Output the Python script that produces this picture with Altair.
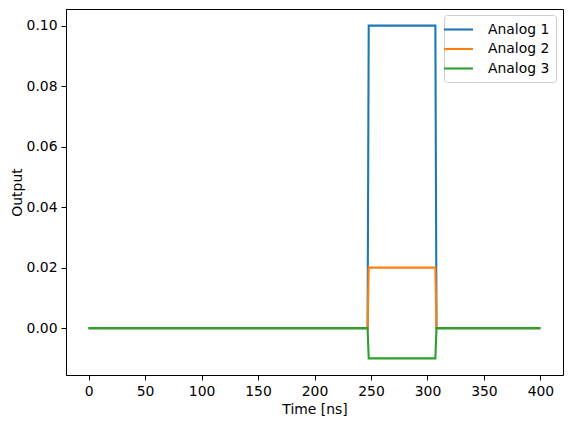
import altair as alt
import pandas as pd

times = [0, 247, 248, 307, 308, 400]
analog1 = [0.0, 0.0, 0.10, 0.10, 0.0, 0.0]
analog2 = [0.0, 0.0, 0.02, 0.02, 0.0, 0.0]
analog3 = [0.0, 0.0, -0.01, -0.01, 0.0, 0.0]
series = ["Analog 1", "Analog 2", "Analog 3"]
colors = ["#1f77b4", "#ff7f0e", "#2ca02c"]

rows = []
for name, vals in zip(series, [analog1, analog2, analog3]):
    for i, (t, v) in enumerate(zip(times, vals)):
        rows.append({"Time": t, "Output": v, "Series": name, "order": i})
df = pd.DataFrame(rows)

font = "DejaVu Sans"

chart = alt.Chart(df).mark_line(strokeWidth=2.1).encode(
    x=alt.X("Time:Q", title="Time [ns]",
            scale=alt.Scale(domain=[-20, 420], nice=False, zero=False),
            axis=alt.Axis(values=[0, 50, 100, 150, 200, 250, 300, 350, 400], format="d")),
    y=alt.Y("Output:Q", title="Output",
            scale=alt.Scale(domain=[-0.0155, 0.1055], nice=False, zero=False),
            axis=alt.Axis(values=[0.0, 0.02, 0.04, 0.06, 0.08, 0.10], format=".2f",
                          titlePadding=2)),
    color=alt.Color("Series:N", scale=alt.Scale(domain=series, range=colors),
                    legend=alt.Legend(title=None, orient="none", legendX=378, legendY=6,
                                      symbolType="M-2,0H2", symbolSize=210,
                                      symbolStrokeWidth=2.1, labelOffset=21,
                                      labelFontSize=13.9, labelFont=font,
                                      rowPadding=3.5, padding=6,
                                      fillColor="white", strokeColor="#cccccc",
                                      cornerRadius=3)),
    order="order:Q",
).properties(
    width=497, height=366,
    autosize=alt.AutoSizeParams(type="none"),
    padding={"left": 58, "top": 1, "right": 4, "bottom": 50},
).configure_view(
    stroke="black", strokeWidth=1
).configure_axis(
    grid=False, domainColor="black", tickColor="black", tickSize=5,
    labelFont=font, titleFont=font, labelFontSize=13.9, titleFontSize=13.9,
    titleFontWeight="normal", labelColor="black", titleColor="black",
    labelPadding=4, titlePadding=5, domainWidth=1, tickWidth=1,
)

chart.save("out.html", embed_options={"renderer": "svg", "actions": False})
